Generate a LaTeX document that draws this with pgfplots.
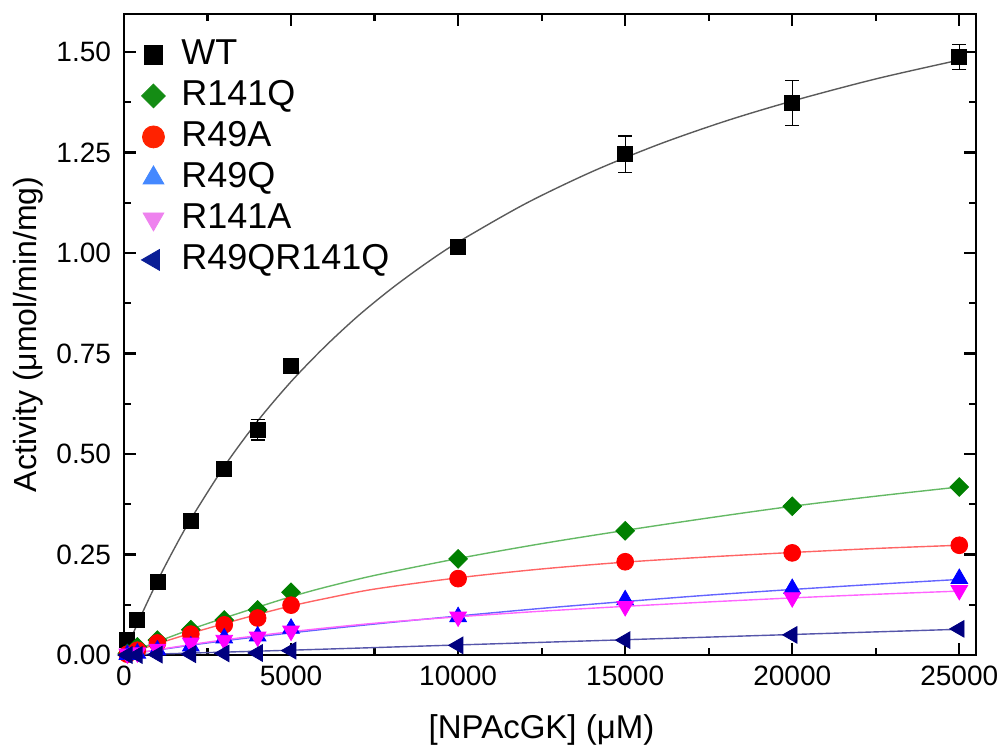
\documentclass[border=0pt]{standalone}
\usepackage{fontspec}
\setmainfont{Liberation Sans}
\usepackage{pgfplots}
\pgfplotsset{compat=1.18}
\definecolor{cgreen}{RGB}{0,128,0}
\definecolor{lgreen}{RGB}{20,140,20}
\definecolor{fgreen}{RGB}{100,185,100}
\definecolor{cred}{RGB}{255,0,0}
\definecolor{lred}{RGB}{255,34,0}
\definecolor{fred}{RGB}{255,100,100}
\definecolor{cblue}{RGB}{0,0,255}
\definecolor{lblue}{RGB}{68,136,255}
\definecolor{fblue}{RGB}{100,100,255}
\definecolor{cmag}{RGB}{255,0,255}
\definecolor{lmag}{RGB}{238,130,238}
\definecolor{fmag}{RGB}{255,100,255}
\definecolor{cnavy}{RGB}{0,0,128}
\definecolor{lnavy}{RGB}{10,30,150}
\definecolor{fnavy}{RGB}{85,85,170}
\definecolor{fgray}{RGB}{90,90,90}
\begin{document}
\begin{tikzpicture}
\begin{axis}[
  scale only axis, width=426pt, height=320.5pt,
  xmin=0, xmax=25500, ymin=0, ymax=1.5945,
  clip=false,
  axis line style={line width=1.2pt},
  tick align=inside, tick pos=both,
  major tick length=6pt, minor tick length=3.5pt,
  every tick/.style={line width=1.1pt, black},
  xtick={0,5000,10000,15000,20000,25000},
  minor x tick num=1,
  ytick={0,0.25,0.5,0.75,1,1.25,1.5},
  minor y tick num=1,
  scaled x ticks=false, scaled y ticks=false,
  /pgf/number format/assume math mode=true,
  xticklabel style={/pgf/number format/set thousands separator={}, font=\fontsize{14}{16}\selectfont, yshift=-2pt},
  yticklabel style={/pgf/number format/fixed, /pgf/number format/fixed zerofill, /pgf/number format/precision=2, font=\fontsize{14}{16}\selectfont, xshift=-3pt},
  xlabel={[NPAcGK] (μM)},
  ylabel={Activity (μmol/min/mg)},
  xlabel style={font=\fontsize{16.5}{18}\selectfont, at={(axis description cs:0.49,-0.117)}, anchor=center},
  ylabel style={font=\fontsize{16}{18}\selectfont, at={(axis description cs:-0.1127,0.5)}, anchor=center, rotate=0},
  legend style={draw=none, fill=none, at={(axis description cs:0.013,0.975)}, anchor=north west,
    font=\fontsize{18}{20}\selectfont, row sep=0pt,
    nodes={inner sep=2pt, text height=13pt, text depth=3.5pt}},
  legend cell align=left,
]
% fitted curves
\addplot[fgray, line width=0.7pt, smooth, forget plot] coordinates {
(0,0) (250,0.049) (500,0.096) (1000,0.184) (1500,0.264) (2000,0.338) (3000,0.469) (4000,0.582) (5000,0.680) (6000,0.766) (7000,0.843) (8000,0.911) (9000,0.972) (10000,1.027) (12000,1.122) (14000,1.202) (16000,1.270) (18000,1.328) (20000,1.378) (22500,1.433) (25000,1.480)};
\addplot[fgreen, line width=0.7pt, smooth, forget plot] coordinates {
(0,0) (1000,0.033) (2000,0.064) (3000,0.092) (4000,0.119) (5000,0.145) (6000,0.168) (7500,0.198) (10000,0.240) (12500,0.277) (15000,0.310) (17500,0.341) (20000,0.370) (22500,0.395) (25000,0.418)};
\addplot[fred, line width=0.7pt, smooth, forget plot] coordinates {
(0,0) (1000,0.028) (2000,0.054) (3000,0.078) (4000,0.101) (5000,0.122) (6000,0.140) (7500,0.164) (10000,0.192) (12500,0.214) (15000,0.231) (17500,0.244) (20000,0.255) (22500,0.265) (25000,0.273)};
\addplot[fblue, line width=0.7pt, smooth, forget plot] coordinates {
(0,0) (2500,0.030) (5000,0.055) (7500,0.077) (10000,0.097) (12500,0.116) (15000,0.133) (17500,0.149) (20000,0.163) (22500,0.176) (25000,0.188)};
\addplot[fmag, line width=0.7pt, smooth, forget plot] coordinates {
(0,0) (2500,0.032) (5000,0.058) (7500,0.079) (10000,0.095) (12500,0.109) (15000,0.121) (17500,0.132) (20000,0.142) (22500,0.151) (25000,0.159)};
\addplot[fnavy, line width=0.7pt, smooth, forget plot] coordinates {
(0,0) (5000,0.012) (10000,0.025) (15000,0.038) (20000,0.051) (25000,0.064)};
% data
\addplot[only marks, mark=square*, mark size=3.75pt, black, forget plot,
  error bars/.cd, y dir=both, y explicit,
  error bar style={line width=0.6pt, black},
  error mark options={rotate=90, mark size=3.5pt, line width=0.6pt, black}] coordinates {
(100,0.037) +- (0,0)
(400,0.087) +- (0,0)
(1000,0.182) +- (0,0)
(2000,0.333) +- (0,0)
(3000,0.463) +- (0,0.01)
(4000,0.560) +- (0,0.025)
(5000,0.719) +- (0,0.01)
(10000,1.015) +- (0,0.01)
(15000,1.246) +- (0,0.045)
(20000,1.373) +- (0,0.056)
(25000,1.487) +- (0,0.031)};
\addplot[only marks, mark=square*, mark size=3.3pt, mark options={rotate=45}, cgreen, forget plot] coordinates {
(100,0.004) (400,0.020) (1000,0.037) (2000,0.063) (3000,0.087) (4000,0.112) (5000,0.156) (10000,0.239) (15000,0.309) (20000,0.370) (25000,0.418)};
\addplot[only marks, mark=*, mark size=4.2pt, cred, forget plot] coordinates {
(100,0.002) (400,0.012) (1000,0.030) (2000,0.052) (3000,0.075) (4000,0.092) (5000,0.124) (10000,0.190) (15000,0.232) (20000,0.254) (25000,0.273)};
\addplot[only marks, mark=triangle*, mark size=4.8pt, cblue, forget plot] coordinates {
(100,0.001) (400,0.004) (1000,0.012) (2000,0.022) (3000,0.042) (4000,0.047) (5000,0.066) (10000,0.095) (15000,0.137) (20000,0.165) (25000,0.190)};
\addplot[only marks, mark=triangle*, mark size=4.8pt, mark options={rotate=180}, cmag, forget plot] coordinates {
(100,0.003) (400,0.006) (1000,0.015) (2000,0.030) (3000,0.037) (4000,0.045) (5000,0.060) (10000,0.095) (15000,0.121) (20000,0.143) (25000,0.161)};
\addplot[only marks, mark=triangle*, mark size=4.8pt, mark options={rotate=90}, cnavy, forget plot] coordinates {
(100,0.000) (400,0.000) (1000,0.001) (2000,0.002) (3000,0.004) (4000,0.005) (5000,0.011) (10000,0.024) (15000,0.037) (20000,0.050) (25000,0.065)};
% legend
\addlegendimage{only marks, mark=square*, mark size=4.7pt, black}
\addlegendentry{\hspace{6pt}WT}
\addlegendimage{only marks, mark=square*, mark size=4.2pt, mark options={rotate=45}, lgreen}
\addlegendentry{\hspace{6pt}R141Q}
\addlegendimage{only marks, mark=*, mark size=5.5pt, lred}
\addlegendentry{\hspace{6pt}R49A}
\addlegendimage{only marks, mark=triangle*, mark size=6pt, lblue}
\addlegendentry{\hspace{6pt}R49Q}
\addlegendimage{only marks, mark=triangle*, mark size=6pt, mark options={rotate=180}, lmag}
\addlegendentry{\hspace{6pt}R141A}
\addlegendimage{only marks, mark=triangle*, mark size=6pt, mark options={rotate=90}, lnavy}
\addlegendentry{\hspace{6pt}R49QR141Q}
\end{axis}
\pgfresetboundingbox
\path[use as bounding box] (-62pt,-48pt) rectangle (439.5pt,327.5pt);
\end{tikzpicture}
\end{document}
